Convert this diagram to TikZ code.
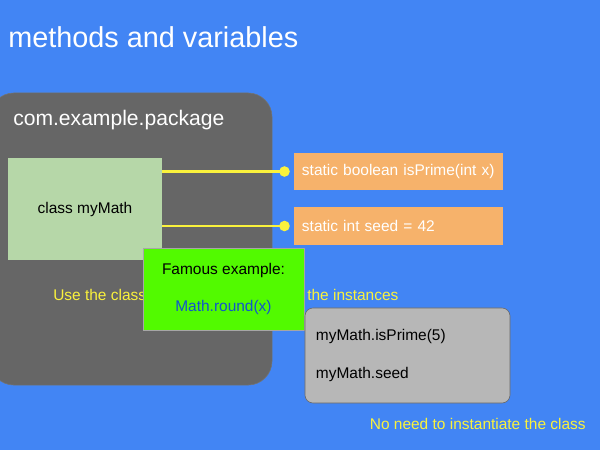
\documentclass[tikz,border=0pt]{standalone}
\usepackage{fontspec}
\setmainfont{Liberation Sans}
\usepackage{tikz}
\usetikzlibrary{positioning,arrows.meta,calc}
\definecolor{slideblue}{RGB}{66,133,244}
\definecolor{pkggray}{RGB}{102,102,102}
\definecolor{classgreen}{RGB}{182,215,168}
\definecolor{memberorange}{RGB}{246,178,107}
\definecolor{famousgreen}{RGB}{82,250,0}
\definecolor{callgray}{RGB}{183,183,183}
\definecolor{noteyellow}{RGB}{250,242,60}
\definecolor{codeblue}{RGB}{17,85,204}
\tikzset{
  pkgbox/.style={draw=black!55, fill=pkggray, rounded corners=0.6cm, line width=0.4pt},
  classbox/.style={fill=classgreen, align=center, font=\fontsize{11}{13}\selectfont},
  memberbox/.style={fill=memberorange, text=white, align=left, inner xsep=0.2cm,
    text width=4.825cm, minimum height=0.94cm, font=\fontsize{11}{13}\selectfont},
  famousbox/.style={draw=black!35, fill=famousgreen, align=center, line width=0.3pt,
    font=\fontsize{11}{27}\selectfont},
  callbox/.style={draw=black!60, fill=callgray, rounded corners=0.2cm, align=left,
    inner xsep=0.275cm, text width=4.575cm, font=\fontsize{11}{27}\selectfont},
  notetext/.style={text=noteyellow, font=\fontsize{11}{13}\selectfont, inner sep=0pt},
  dotline/.style={-{Circle[length=2.6mm]}, noteyellow, line width=1.8pt},
}

\begin{document}
\begin{tikzpicture}[x=0.025cm, y=-0.025cm]
  % slide background
  \fill[slideblue] (0,0) rectangle (600,450);
  \useasboundingbox (0,0) rectangle (600,450);
  \node[anchor=base west, text=white, inner sep=0pt, font=\fontsize{20.5}{24}\selectfont]
    (title) at (8,47) {methods and variables};

  % package
  \node[pkgbox, minimum width=7.05cm, minimum height=7.3cm] (pkg) at (131,239) {};
  \node[anchor=base west, text=white, inner sep=0pt, font=\fontsize{15}{18}\selectfont]
    (pkgname) at (13,125) {com.example.package};
  \node[classbox, minimum width=3.85cm, minimum height=2.55cm] (cls) at (85,209) {class myMath};

  % static members
  \node[memberbox] (isprime) at (398.5,171.5) {static boolean isPrime(int x)};
  \node[memberbox] (seed) at (398.5,226) {static int seed = 42};
  \coordinate (d1) at ($(isprime.west)+(-4,0)$);
  \coordinate (d2) at ($(seed.west)+(-4,0)$);
  \draw[dotline] (d1 -| cls.east) -- (d1);
  \draw[dotline] (d2 -| cls.east) -- (d2);

  \node[notetext, anchor=base west] (use) at (53,300) {Use the class};
  \node[notetext, anchor=base west] (inst) at (307,300) {the instances};

  \node[famousbox, minimum width=4.025cm, minimum height=2.05cm] (famous) at (223.5,289)
    {Famous example:\\\textcolor{codeblue}{Math.round(x)}};

  % usage
  \node[callbox, minimum height=2.375cm] (call) at (407.5,355.5)
    {myMath.isPrime(5)\\myMath.seed};
  \node[notetext, anchor=base east] (note) at (586,429) {No need to instantiate the class};
\end{tikzpicture}
\end{document}
